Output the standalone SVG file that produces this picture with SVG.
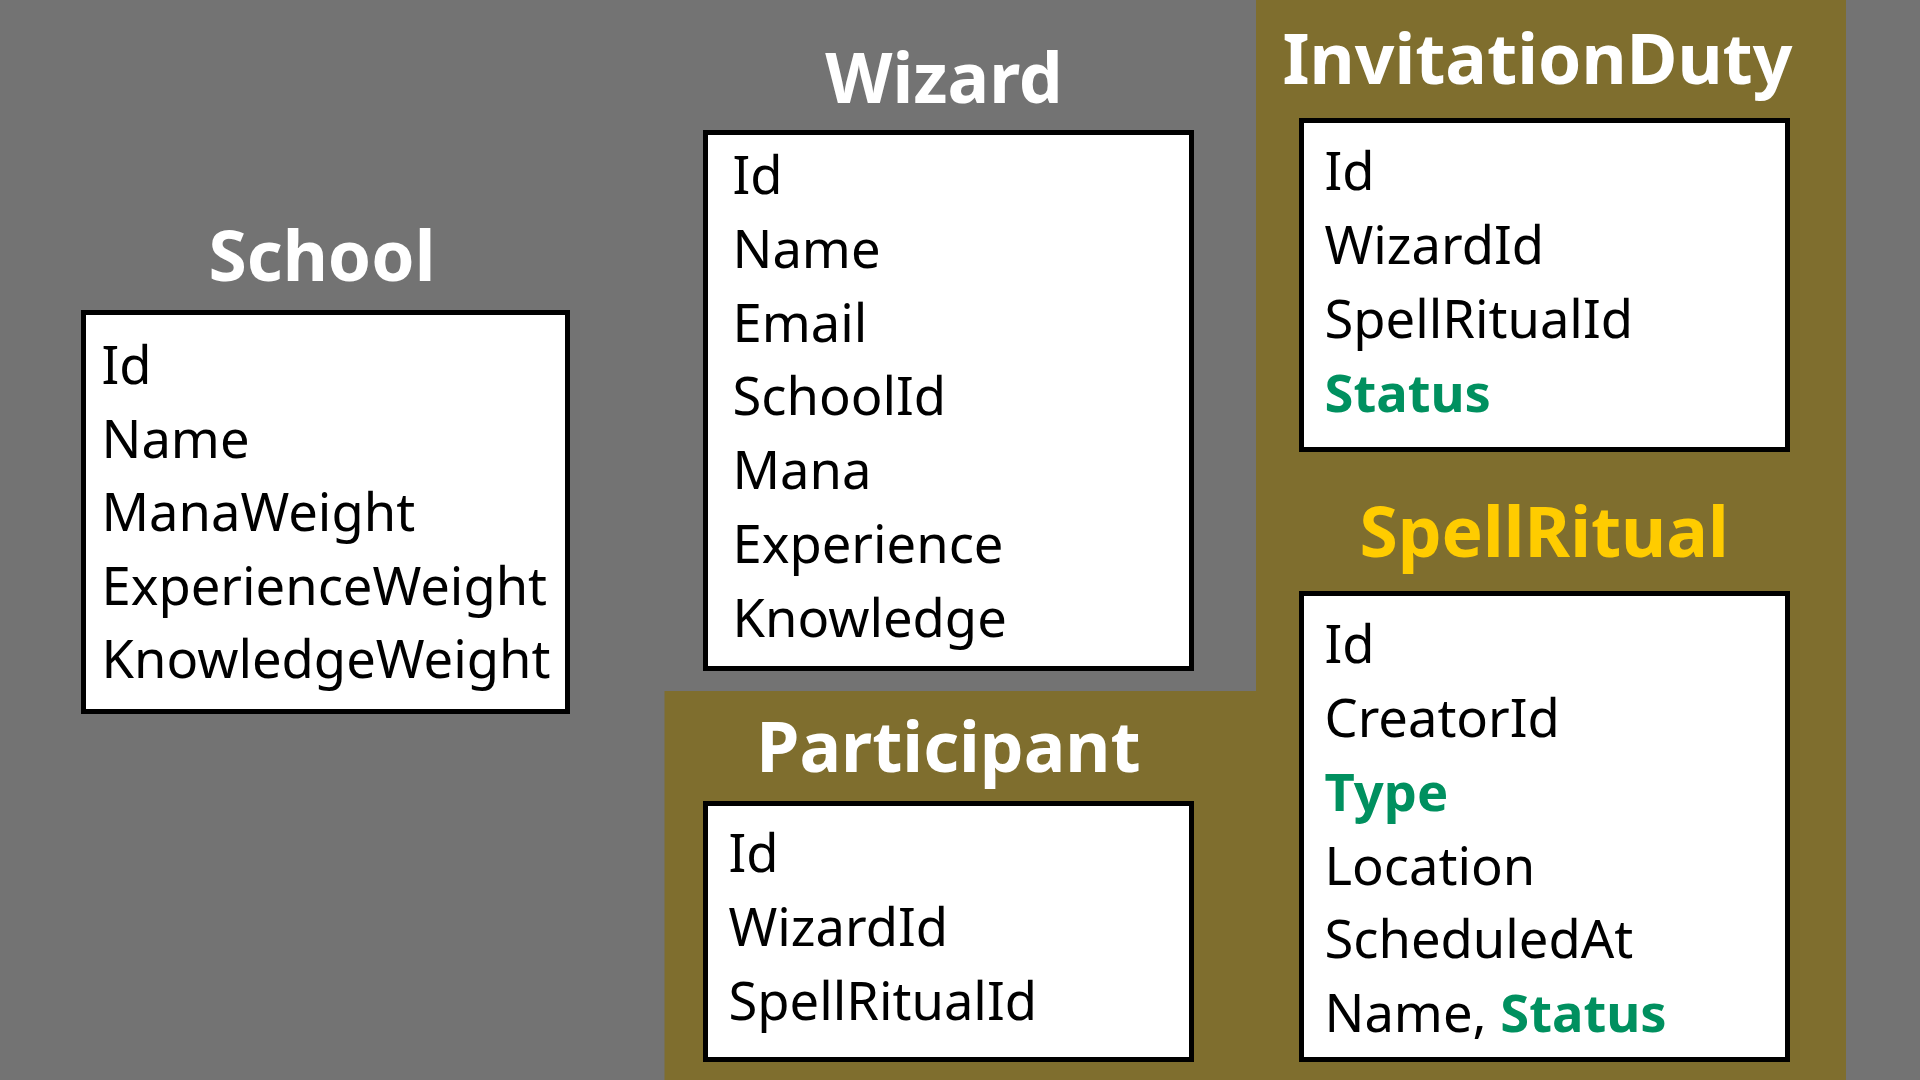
<svg xmlns="http://www.w3.org/2000/svg" width="1920" height="1080" viewBox="0 0 1920 1080">
<style>
.title{font-family:"Noto Sans","Open Sans",sans-serif;font-weight:700;font-size:69.5px;fill:#ffffff;text-anchor:middle}
.yellow{fill:#ffcc00}
.box{fill:#ffffff;stroke:#000000;stroke-width:5}
.f{font-family:"Noto Sans","Open Sans",sans-serif;font-size:52.5px;fill:#000000}
.hl{font-weight:700;fill:#00905f}
</style>
<rect x="0" y="0" width="1920" height="1080" fill="#737373"/>
<path d="M1256 0 H1846 V1080 H664.5 V691 H1256 Z" fill="#7f6e2e"/>
<g id="school">
<text class="title" x="322" y="281">School</text>
<rect class="box" x="83.5" y="312.5" width="484" height="399"/>
<text class="f" x="101.5" y="384">Id</text>
<text class="f" x="101.5" y="457.5">Name</text>
<text class="f" x="101.5" y="531">ManaWeight</text>
<text class="f" x="101.5" y="604.5">ExperienceWeight</text>
<text class="f" x="101.5" y="678">KnowledgeWeight</text>
</g>
<g id="wizard">
<text class="title" x="944" y="103">Wizard</text>
<rect class="box" x="705.5" y="132.5" width="486" height="536"/>
<text class="f" x="732.5" y="194">Id</text>
<text class="f" x="732.5" y="268">Name</text>
<text class="f" x="732.5" y="341.5">Email</text>
<text class="f" x="732.5" y="415">SchoolId</text>
<text class="f" x="732.5" y="489">Mana</text>
<text class="f" x="732.5" y="563">Experience</text>
<text class="f" x="732.5" y="637">Knowledge</text>
</g>
<g id="invitationduty">
<text class="title" x="1537.5" y="84">InvitationDuty</text>
<rect class="box" x="1301.5" y="120.5" width="486" height="329"/>
<text class="f" x="1324.5" y="190">Id</text>
<text class="f" x="1324.5" y="264">WizardId</text>
<text class="f" x="1324.5" y="338">SpellRitualId</text>
<text class="f hl" x="1324.5" y="412">Status</text>
</g>
<g id="spellritual">
<text class="title yellow" x="1544" y="557">SpellRitual</text>
<rect class="box" x="1301.5" y="593.5" width="486" height="466"/>
<text class="f" x="1324.5" y="663">Id</text>
<text class="f" x="1324.5" y="737">CreatorId</text>
<text class="f hl" x="1324.5" y="811">Type</text>
<text class="f" x="1324.5" y="885">Location</text>
<text class="f" x="1324.5" y="958">ScheduledAt</text>
<text class="f" x="1324.5" y="1032">Name, <tspan class="hl">Status</tspan></text>
</g>
<g id="participant">
<text class="title" x="948.5" y="772">Participant</text>
<rect class="box" x="705.5" y="803.5" width="486" height="256"/>
<text class="f" x="728.5" y="872">Id</text>
<text class="f" x="728.5" y="946">WizardId</text>
<text class="f" x="728.5" y="1020">SpellRitualId</text>
</g>
<g id="connectors"/>
</svg>
